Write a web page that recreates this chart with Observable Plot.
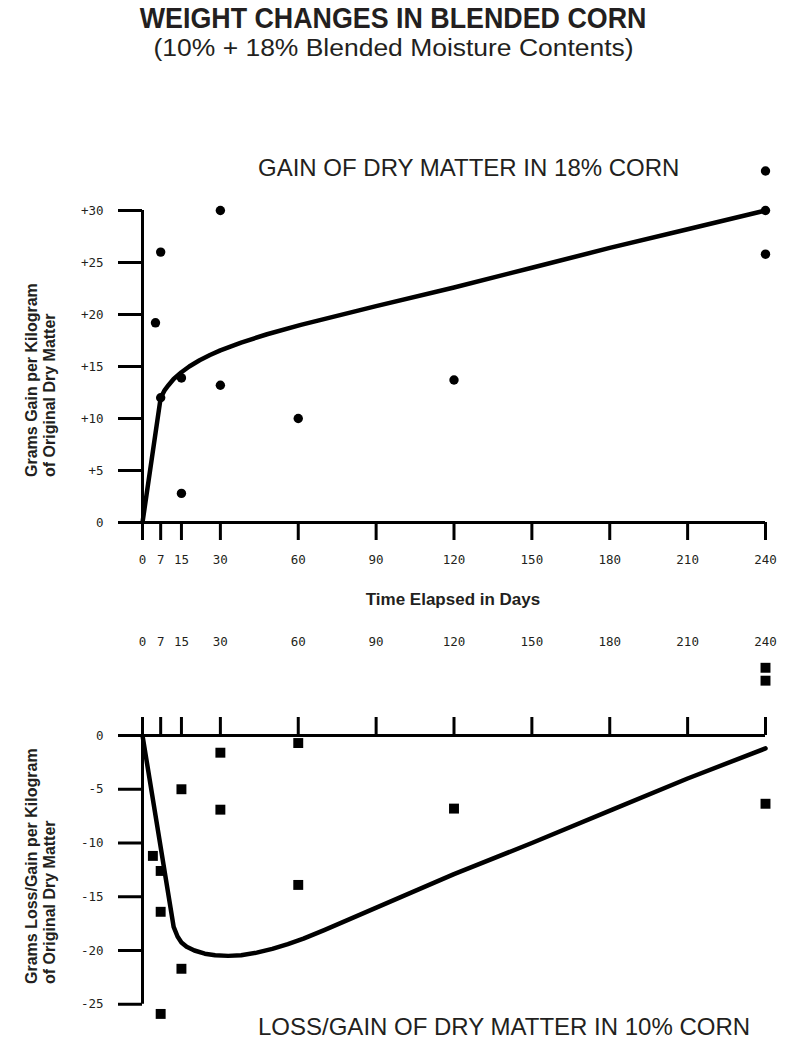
<!DOCTYPE html>
<html>
<head>
<meta charset="utf-8">
<script src="https://cdn.jsdelivr.net/npm/d3@7"></script>
<script src="https://cdn.jsdelivr.net/npm/@observablehq/plot@0.6"></script>
<style>
  html, body { margin: 0; padding: 0; background: white; }
  #page { position: relative; width: 787px; height: 1040px; overflow: hidden; font-family: "Liberation Sans", Arial, sans-serif; color: #231f20; }
  .abs { position: absolute; white-space: nowrap; }
  #title { left: 0; width: 787px; text-align: center; top: 2px; height: 33px; font-weight: bold; font-size: 29px; line-height: 33px; transform: scaleX(0.925); transform-origin: 388px 0; }
  #subtitle { left: 0; width: 787px; text-align: center; top: 35px; height: 26px; font-size: 23px; line-height: 26px; transform: scaleX(1.15); transform-origin: 393px 0; }
  .panel-title { font-size: 24px; line-height: 24px; }
  .ylab { font-weight: bold; font-size: 16px; line-height: 18px; transform-origin: 0 0; transform: rotate(-90deg); }
  #xtitle { font-weight: bold; font-size: 17px; left: 0; width: 906px; text-align: center; top: 590px; }
  #topchart { position: absolute; left: 0; top: 140px; }
  #bottomchart { position: absolute; left: 0; top: 620px; }
</style>
</head>
<body>
<div id="page">
  <div id="topchart"></div>
  <div id="bottomchart"></div>
  <div class="abs" id="title">WEIGHT CHANGES IN BLENDED CORN</div>
  <div class="abs" id="subtitle">(10% + 18% Blended Moisture Contents)</div>
  <div class="abs panel-title" style="left:258px; top:156px;">GAIN OF DRY MATTER IN 18% CORN</div>
  <div class="abs panel-title" style="left:258px; top:1015px;">LOSS/GAIN OF DRY MATTER IN 10% CORN</div>
  <div class="abs" id="xtitle">Time Elapsed in Days</div>
  <div class="abs ylab" style="left:23px; top:477px;">Grams Gain per Kilogram<br>of Original Dry Matter</div>
  <div class="abs ylab" style="left:23px; top:984px;">Grams Loss/Gain per Kilogram<br>of Original Dry Matter</div>
</div>
<script>
// ---- data ----
const xTicks = [0, 7, 15, 30, 60, 90, 120, 150, 180, 210, 240];
const topYTicks = [0, 5, 10, 15, 20, 25, 30];
const bottomYTicks = [0, -5, -10, -15, -20, -25];

// 18% corn observations (days, grams gain per kg)
const topDays = [5, 7, 7, 15, 15, 30, 30, 60, 120, 240, 240, 240];
const topGain = [19.2, 26, 12, 13.9, 2.8, 30, 13.2, 10, 13.7, 33.8, 30, 25.8];
// 18% corn fitted curve
const topCurveDays = [0, 7, 8.5, 10, 12, 15, 18, 22, 26, 30, 38, 48, 61, 90, 120, 150, 180, 210, 240];
const topCurveGain = [0, 12, 12.7, 13.2, 13.8, 14.45, 15.0, 15.6, 16.1, 16.55, 17.3, 18.1, 19.0, 20.8, 22.6, 24.5, 26.4, 28.2, 30];

// 10% corn observations (days, grams loss/gain per kg)
const bottomDays = [4, 7, 7, 7, 15, 15, 30, 30, 60, 60, 120, 240, 240, 240];
const bottomVals = [-11.2, -12.6, -16.4, -25.9, -5, -21.7, -1.6, -6.9, -0.7, -13.9, -6.8, 6.3, 5.1, -6.35];
// 10% corn fitted curve
const bottomCurveDays = [0, 12, 13.5, 15, 17, 20, 24, 28, 33, 38, 44, 50, 56, 62, 70, 120, 150, 181, 210, 240];
const bottomCurveVals = [0, -17.8, -18.7, -19.25, -19.65, -20.0, -20.3, -20.45, -20.5, -20.45, -20.2, -19.85, -19.4, -18.9, -18.1, -12.9, -10.0, -6.9, -4.0, -1.2];

// ---- build tables ----
const topPoints = topDays.map((d, i) => ({day: d, value: topGain[i]}));
const topCurve = topCurveDays.map((d, i) => ({day: d, value: topCurveGain[i]}));
const bottomPoints = bottomDays.map((d, i) => ({day: d, value: bottomVals[i]}));
const bottomCurve = bottomCurveDays.map((d, i) => ({day: d, value: bottomCurveVals[i]}));

const tickFont = {fontFamily: "DejaVu Sans Mono", fontSize: 12.5, fill: "#231f20"};
const baseStyle = {fontFamily: "DejaVu Sans Mono", fontSize: "12.5px", color: "#231f20", background: "transparent", overflow: "visible"};

const topChart = Plot.plot({
  width: 787, height: 470,
  marginLeft: 142, marginRight: 22, marginTop: 18, marginBottom: 88,
  x: {domain: [0, 240], label: null},
  y: {domain: [0, 35], label: null},
  style: baseStyle,
  marks: [
    // tick labels
    Plot.axisX({ticks: xTicks, tickSize: 0, tickPadding: 33, tickFormat: d => String(d), label: null, ...tickFont}),
    Plot.axisY({ticks: topYTicks, tickSize: 0, tickPadding: 39, tickFormat: d => d === 0 ? "0" : "+" + d, label: null, ...tickFont}),
    // tick marks
    Plot.ruleX(xTicks, {y1: 0, y2: 0, insetBottom: -18, strokeWidth: 3, stroke: "black"}),
    Plot.ruleY(topYTicks, {x1: 0, x2: 0, insetLeft: -24, strokeWidth: 3, stroke: "black"}),
    // axis lines
    Plot.ruleY([0], {strokeWidth: 3, stroke: "black"}),
    Plot.ruleX([0], {y1: 0, y2: 30, strokeWidth: 3, stroke: "black"}),
    // data
    Plot.line(topCurve, {x: "day", y: "value", stroke: "black", strokeWidth: 4.5, strokeLinejoin: "round"}),
    Plot.dot(topPoints, {x: "day", y: "value", r: 4.7, fill: "black", symbol: "circle"})
  ]
});
document.getElementById("topchart").appendChild(topChart);

const bottomChart = Plot.plot({
  width: 787, height: 420,
  marginLeft: 142, marginRight: 22, marginTop: 29, marginBottom: 4,
  x: {domain: [0, 240], label: null},
  y: {domain: [-28, 8], label: null},
  style: baseStyle,
  marks: [
    // tick labels
    Plot.axisX({anchor: "top", ticks: xTicks, tickSize: 0, tickPadding: 4, tickFormat: d => String(d), label: null, ...tickFont}),
    Plot.axisY({ticks: bottomYTicks, tickSize: 0, tickPadding: 39, tickFormat: d => String(d), label: null, ...tickFont}),
    // tick marks
    Plot.ruleX(xTicks, {y1: 0, y2: 0, insetTop: -18, strokeWidth: 3, stroke: "black"}),
    Plot.ruleY(bottomYTicks, {x1: 0, x2: 0, insetLeft: -24, strokeWidth: 3, stroke: "black"}),
    // axis lines
    Plot.ruleY([0], {strokeWidth: 3, stroke: "black"}),
    Plot.ruleX([0], {y1: -25, y2: 0, strokeWidth: 3, stroke: "black"}),
    // data
    Plot.line(bottomCurve, {x: "day", y: "value", stroke: "black", strokeWidth: 4.5, strokeLinejoin: "round"}),
    Plot.dot(bottomPoints, {x: "day", y: "value", r: 5.6, fill: "black", symbol: "square"})
  ]
});
document.getElementById("bottomchart").appendChild(bottomChart);
</script>
</body>
</html>
